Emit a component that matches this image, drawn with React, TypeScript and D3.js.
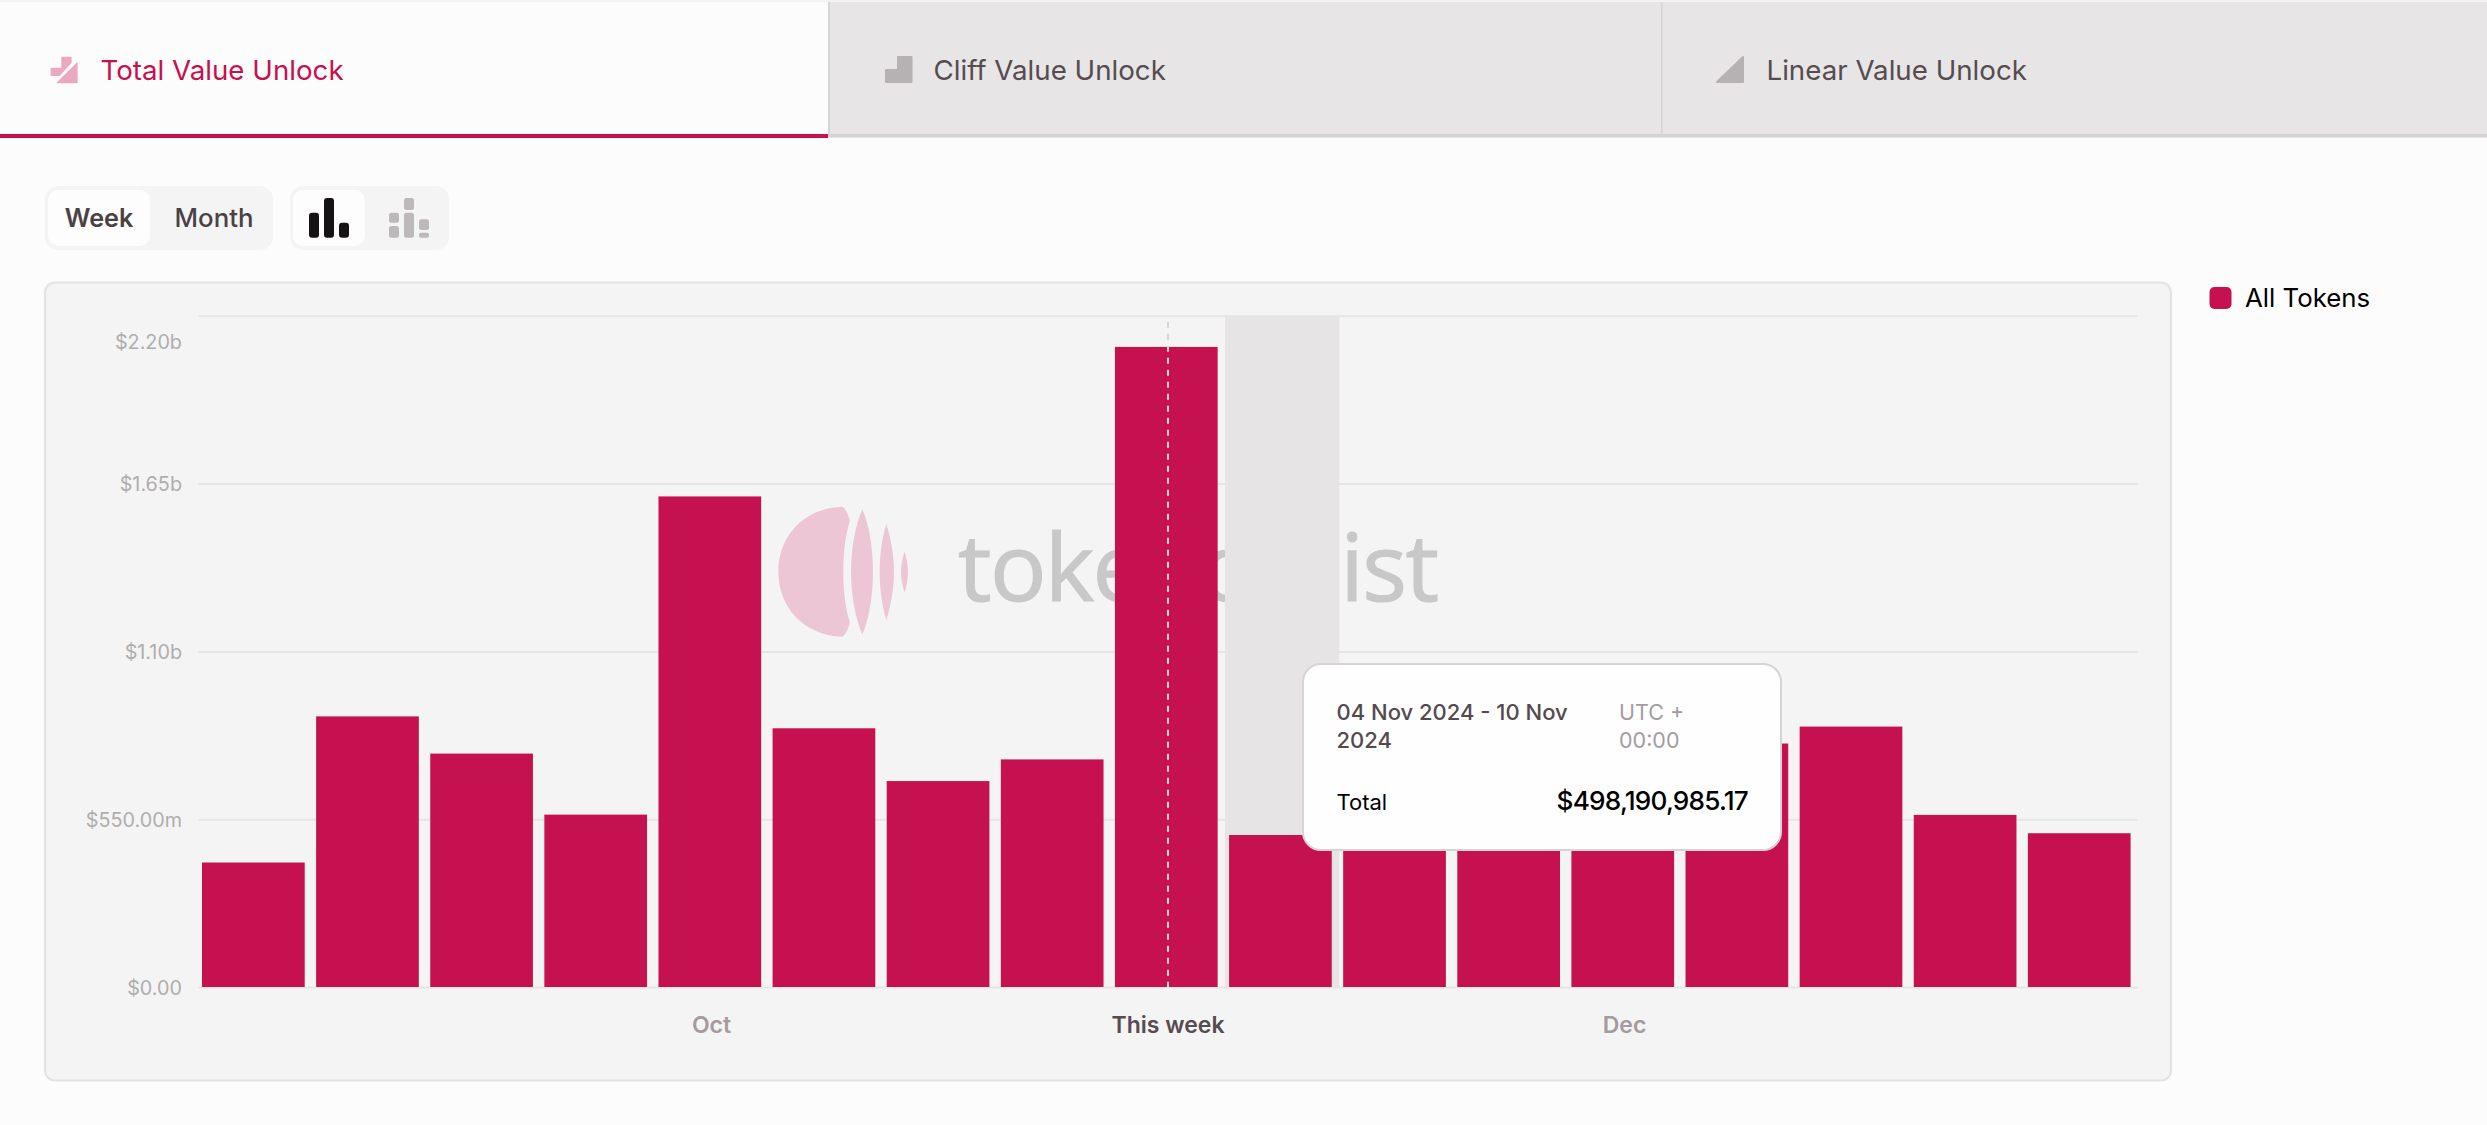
import { useEffect, useRef } from 'react';
import * as d3 from 'd3';

const weeks = [
	'02 Sep', '09 Sep', '16 Sep', '23 Sep', '30 Sep', '07 Oct', '14 Oct', '21 Oct', '28 Oct',
	'04 Nov', '11 Nov', '18 Nov', '25 Nov', '02 Dec', '09 Dec', '16 Dec', '23 Dec',
];
// millions of USD (11 Nov - 25 Nov sit behind the tooltip)
const totals = [408, 887, 765, 565, 1608, 848, 675, 746, 2098, 498.19, 640, 590, 620, 798, 853.5, 564, 504];
const yTicks = [0, 550, 1100, 1650, 2200];
const yTickLabels = ['$0.00', '$550.00m', '$1.10b', '$1.65b', '$2.20b'];
const xTicks = ['30 Sep', '28 Oct', '25 Nov'];
const xTickLabels = ['Oct', 'This week', 'Dec'];

const hoverWeek = '04 Nov';
const currentWeek = '28 Oct';

const font = 'Inter, sans-serif';
const crimson = '#c61150';

const plot = { left: 198, right: 2138, top: 315.8, bottom: 987 };

export default function App() {
	const chartRef = useRef<SVGGElement>(null);

	useEffect(() => {
		if (!chartRef.current) return;

		const chart = d3.select(chartRef.current);
		chart.selectAll('*').remove();

		const xScale = d3.scaleBand().domain(weeks).range([plot.left, plot.right]);
		const yScale = d3.scaleLinear().domain([0, 2200]).range([plot.bottom, plot.top]);

		// grid + y labels
		const yAxis = chart
			.append('g')
			.attr('transform', `translate(${plot.left},0)`)
			.call(
				d3
					.axisLeft(yScale)
					.tickValues(yTicks)
					.tickSize(-(plot.right - plot.left))
					.tickPadding(16)
					.tickFormat((_, i) => yTickLabels[i]),
			);
		yAxis.select('.domain').remove();
		yAxis.selectAll('.tick line').attr('stroke', '#e6e5e5').attr('stroke-width', 2);
		yAxis
			.selectAll('.tick text')
			.attr('font-family', font)
			.attr('font-size', 19.8)
			.attr('fill', '#b0adae')
			.attr('dy', (d) => (d === 2200 ? '1.63em' : '0.36em'));

		// hovered band
		chart
			.append('rect')
			.attr('x', xScale(hoverWeek)!)
			.attr('y', plot.top)
			.attr('width', xScale.bandwidth())
			.attr('height', plot.bottom - plot.top)
			.attr('fill', '#e6e4e5');

		const barWidth = xScale.bandwidth() * 0.9;
		chart
			.append('g')
			.selectAll('rect')
			.data(weeks)
			.enter()
			.append('rect')
			.attr('x', (d) => xScale(d)! + 4)
			.attr('y', (_, i) => yScale(totals[i]))
			.attr('width', barWidth)
			.attr('height', (_, i) => plot.bottom - yScale(totals[i]))
			.attr('fill', crimson);

		// x labels
		const xAxis = chart
			.append('g')
			.attr('transform', `translate(0,${plot.bottom})`)
			.call(
				d3
					.axisBottom(xScale)
					.tickValues(xTicks)
					.tickSize(0)
					.tickPadding(30)
					.tickFormat((_, i) => xTickLabels[i]),
			);
		xAxis.select('.domain').remove();
		xAxis
			.selectAll('.tick text')
			.attr('font-family', font)
			.attr('font-size', 23)
			.attr('font-weight', 600)
			.attr('fill', (d) => (d === currentWeek ? '#564c50' : '#a59a9e'));

		// cursor on the current week
		const cursorX = xScale(currentWeek)! + xScale.bandwidth() / 2;
		chart
			.append('line')
			.attr('x1', cursorX)
			.attr('x2', cursorX)
			.attr('y1', plot.top + 6)
			.attr('y2', plot.bottom)
			.attr('stroke', '#d9d4d6')
			.attr('stroke-width', 2)
			.attr('stroke-dasharray', '6,6');
	}, []);

	return (
		<svg
			width={2487}
			height={1125}
			style={{ position: 'absolute', left: 0, top: 0, background: '#fcfcfc' }}
			fontFamily={font}
		>
			<rect x={0} y={0} width={2487} height={2} fill="#f3f3f3" />

			{/* tabs */}
			<rect x={828} y={2} width={1659} height={132} fill="#e7e5e6" />
			<rect x={828} y={134} width={1659} height={3.5} fill="#d6d3d4" />
			<rect x={828} y={2} width={2} height={132} fill="#d6d3d4" />
			<rect x={1661} y={2} width={1.5} height={132} fill="#d6d3d4" />
			<rect x={0} y={134} width={828} height={4} fill={crimson} />

			<g transform="translate(30,40) scale(0.3333)" fill="#eba9c1" stroke="#eba9c1" strokeWidth={4} strokeLinejoin="round">
				<path d="M64,85 H96 V52 H123 V68 L88,106 H64 Z" />
				<path d="M141,70 V128 H82 Z" />
			</g>
			<text x={100.5} y={80} fontSize={27.7} fill={crimson}>Total Value Unlock</text>

			<path d="M886,70 H898 V57 H911.5 V82 H886 Z" fill="#b6b1b3" stroke="#b6b1b3" strokeWidth={2} strokeLinejoin="round" />
			<text x={933.5} y={80} fontSize={27.7} fill="#564c50">Cliff Value Unlock</text>

			<path d="M1717,82 L1743,57 V82 Z" fill="#b6b1b3" stroke="#b6b1b3" strokeWidth={2} strokeLinejoin="round" />
			<text x={1766.5} y={80} fontSize={27.7} fill="#564c50">Linear Value Unlock</text>

			{/* range + chart type toggles */}
			<rect x={45} y={186} width={228} height={64} rx={13} fill="#f4f4f4" />
			<rect x={48} y={190} width={102} height={56} rx={10} fill="#fdfdfd" />
			<text x={99} y={226.5} fontSize={25.2} fontWeight={600} fill="#4a4145" textAnchor="middle">Week</text>
			<text x={214} y={226.5} fontSize={25.8} fontWeight={500} fill="#4a4145" textAnchor="middle">Month</text>

			<rect x={290} y={186} width={159} height={64} rx={13} fill="#f4f4f4" />
			<rect x={293} y={190} width={72} height={56} rx={10} fill="#fdfdfd" />
			<g fill="#161314">
				<rect x={309} y={212.7} width={10} height={25} rx={3} />
				<rect x={324} y={198} width={10} height={39.7} rx={3} />
				<rect x={339} y={222.7} width={10} height={15} rx={3} />
			</g>
			<g fill="#bdb8ba">
				<rect x={389} y={212.7} width={10} height={10} rx={2.5} />
				<rect x={389} y={226} width={10} height={11.7} rx={2.5} />
				<rect x={404} y={198} width={10} height={12} rx={2.5} />
				<rect x={404} y={212.7} width={10} height={25} rx={2.5} />
				<rect x={419} y={219.3} width={10} height={10.7} rx={2.5} />
				<rect x={419} y={232.7} width={10} height={5} rx={2} />
			</g>

			{/* chart panel with watermark */}
			<rect x={45} y={282.5} width={2126} height={798} rx={10} fill="#f4f4f4" stroke="#e4e3e3" strokeWidth={2} />
			<g transform="translate(770,500) scale(0.3333)" fill="#edc6d5">
				<path d="M215,20 C100,25 25,110 25,215 C25,320 100,405 215,410 C225,410 235,385 240,368 C225,320 220,270 220,215 C220,160 225,110 240,62 C235,45 225,20 215,20 Z" />
				<path d="M277,28 C258,70 243,140 243,215 C243,290 258,360 277,403 C296,360 309,290 309,215 C309,140 296,70 277,28 Z" />
				<path d="M349,72 C337,110 329,160 329,215 C329,270 337,320 349,360 C361,320 372,270 372,215 C372,160 361,110 349,72 Z" />
				<path d="M404,155 C397,175 393,195 393,215 C393,237 397,257 404,277 C410,257 414,237 414,215 C414,195 410,175 404,155 Z" />
			</g>
			<text x={958} y={600.7} fontFamily="'Open Sans', sans-serif" fontSize={94} fill="#c9c8c8" stroke="#c9c8c8" strokeWidth={1.2} textLength={481}>tokenomist</text>

			<g ref={chartRef} />

			{/* tooltip */}
			<rect x={1303} y={664} width={478} height={186} rx={18} fill="#fefefe" stroke="#d8d3d5" strokeWidth={2} />
			<text fontSize={22} fontWeight={500} fill="#544a4e">
				<tspan x={1336.5} y={720}>04 Nov 2024 - 10 Nov</tspan>
				<tspan x={1336.5} y={748}>2024</tspan>
			</text>
			<text fontSize={21.5} fill="#a59ca0">
				<tspan x={1619} y={720}>UTC +</tspan>
				<tspan x={1619} y={748}>00:00</tspan>
			</text>
			<text x={1336.5} y={810} fontSize={22} fill="#000">Total</text>
			<text x={1748} y={810} fontSize={26.2} fontWeight={500} fill="#000" textAnchor="end" letterSpacing={-0.8}>$498,190,985.17</text>

			{/* legend */}
			<rect x={2209.5} y={287} width={22} height={22} rx={5} fill={crimson} />
			<text x={2245} y={306.5} fontSize={25.8} fill="#000">All Tokens</text>
		</svg>
	);
}
